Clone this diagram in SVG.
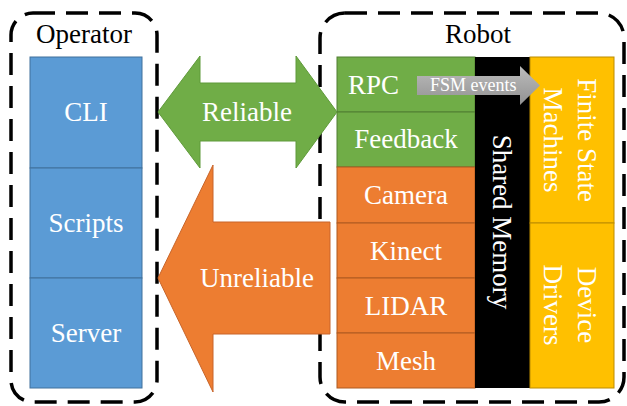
<svg xmlns="http://www.w3.org/2000/svg" width="627" height="406" viewBox="0 0 627 406">
  <defs>
    <linearGradient id="greyFill" x1="0" y1="0" x2="0" y2="1">
      <stop offset="0" stop-color="#bcbcbc"/>
      <stop offset="1" stop-color="#929292"/>
    </linearGradient>
  </defs>
  <style>
    text { font-family: "Liberation Serif", "Times New Roman", serif; font-size: 27px; }
    .lbl { fill: #ffffff; text-anchor: middle; }
    .title { fill: #000000; text-anchor: middle; }
    .frame { fill: none; stroke: #000000; stroke-width: 3.5; stroke-dasharray: 22 11; }
    .blue { fill: #5b9bd5; stroke: #41719c; stroke-width: 1; }
    .green { fill: #70ad47; stroke: #507e32; stroke-width: 1; }
    .orange { fill: #ed7d31; stroke: #ae5a21; stroke-width: 1; }
    .yellow { fill: #ffc000; stroke: #bc8c00; stroke-width: 1; }
    .shm { fill: #000000; }
  </style>

  <!-- Operator side -->
  <g id="operator">
    <rect class="frame" x="11" y="13" width="146" height="389" rx="22"/>
    <text class="title" x="84" y="43">Operator</text>
  </g>
  <g id="cli">
    <rect class="blue" x="30" y="57" width="112" height="111"/>
    <text class="lbl" x="86" y="121">CLI</text>
  </g>
  <g id="scripts">
    <rect class="blue" x="30" y="168" width="112" height="110"/>
    <text class="lbl" x="86" y="232">Scripts</text>
  </g>
  <g id="server">
    <rect class="blue" x="30" y="278" width="112" height="110"/>
    <text class="lbl" x="86" y="342">Server</text>
  </g>

  <!-- Robot side -->
  <g id="robot">
    <rect class="frame" x="320" y="13" width="304" height="389" rx="25"/>
    <text class="title" x="478" y="43">Robot</text>
  </g>
  <g id="rpc">
    <rect class="green" x="337" y="57" width="138" height="55"/>
    <text class="lbl" x="348" y="94" style="text-anchor:start">RPC</text>
  </g>
  <g id="feedback">
    <rect class="green" x="337" y="112" width="138" height="55"/>
    <text class="lbl" x="406" y="148">Feedback</text>
  </g>
  <g id="camera">
    <rect class="orange" x="337" y="167" width="138" height="56"/>
    <text class="lbl" x="406" y="204">Camera</text>
  </g>
  <g id="kinect">
    <rect class="orange" x="337" y="223" width="138" height="55"/>
    <text class="lbl" x="406" y="260">Kinect</text>
  </g>
  <g id="lidar">
    <rect class="orange" x="337" y="278" width="138" height="55"/>
    <text class="lbl" x="406" y="315">LIDAR</text>
  </g>
  <g id="mesh">
    <rect class="orange" x="337" y="333" width="138" height="55"/>
    <text class="lbl" x="406" y="370">Mesh</text>
  </g>
  <g id="shared-memory">
    <rect class="shm" x="475" y="57" width="55" height="331"/>
    <text class="lbl" transform="translate(493,222) rotate(90)">Shared Memory</text>
  </g>
  <g id="fsm">
    <rect class="yellow" x="530" y="57" width="84" height="166"/>
    <text class="lbl" transform="translate(578,140) rotate(90)">Finite State</text>
    <text class="lbl" transform="translate(544,140) rotate(90)">Machines</text>
  </g>
  <g id="drivers">
    <rect class="yellow" x="530" y="223" width="84" height="165"/>
    <text class="lbl" transform="translate(578,305) rotate(90)">Device</text>
    <text class="lbl" transform="translate(544,305) rotate(90)">Drivers</text>
  </g>

  <!-- Links between operator and robot, plus the internal event flow -->
  <g id="connectors">
    <g id="reliable">
      <path d="M158,112 L200,56 L200,83 L296,83 L296,56 L337,112 L296,168 L296,141 L200,141 L200,168 Z" fill="#70ad47" stroke="#5f9a3a" stroke-width="1"/>
      <text class="lbl" x="247" y="121">Reliable</text>
    </g>
    <g id="unreliable">
      <path d="M158,278 L213,165 L213,222 L330,222 L330,334 L213,334 L213,392 Z" fill="#ed7d31" stroke="#c8652a" stroke-width="1"/>
      <text class="lbl" x="257" y="287">Unreliable</text>
    </g>
    <g id="fsm-events">
      <path d="M417,76 L520,76 L520,66 L540,85.5 L520,105 L520,95 L417,95 Z" fill="url(#greyFill)"/>
      <text x="430" y="91" fill="#ffffff" style="font-size:18px">FSM events</text>
    </g>
  </g>
</svg>
